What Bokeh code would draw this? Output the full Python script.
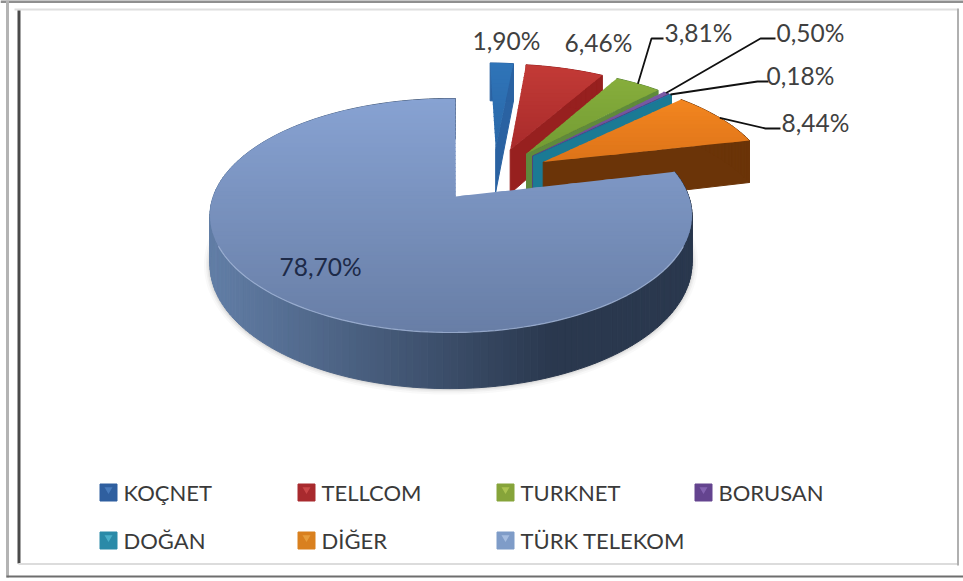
import numpy as np
from bokeh.plotting import figure
from bokeh.models import Range1d
from bokeh.core.properties import value
from bokeh.embed import file_html
from bokeh.resources import INLINE

# ---- data ----
names = ["KOÇNET", "TELLCOM", "TURKNET", "BORUSAN", "DOĞAN", "DİĞER", "TÜRK TELEKOM"]
shares = [1.90, 6.46, 3.81, 0.50, 0.18, 8.44, 78.70]
share_labels = ["1,90%", "6,46%", "3,81%", "0,50%", "0,18%", "8,44%", "78,70%"]

# ---- styles ----
top_hi = ["#2f74b8", "#c23a36", "#86ad3c", "#7a5aa6", "#1f78a8", "#f2851f", "#87a2d2"]
top_lo = ["#2a68a8", "#a92b2b", "#739c33", "#664a90", "#1a6a96", "#de7419", "#687ea6"]
cut_col = ["#2a62a2", "#97201f", "#5f8a3c", "#54407c", "#1b7a94", "#6b3408", "#3c4f6e"]
wall_l = ["#2a62a2", "#97201f", "#5f8a3c", "#54407c", "#1b7a94", "#6b3408", "#617da5"]
wall_r = ["#2a62a2", "#97201f", "#5f8a3c", "#54407c", "#1b7a94", "#6b3408", "#2a384e"]
legend_col = ["#2f5f9f", "#a82a2e", "#86a43a", "#64448f", "#2a8aa8", "#d9801f", "#7f9cc8"]
legend_hi = ["#5a90d0", "#e05a5a", "#c4d860", "#9a78c8", "#60c8e0", "#f0b050", "#c0d4f0"]

# ---- layout (pixels of the 963x581 picture) ----
W, H = 963, 581
CX, CY, RX, RY = 450.5, 215.0, 241.0, 117.0
BOOST = np.array([0.02, 0.162])
EXPLODE = 0.255
SMALL_SHIFT_X = 0.008
SMALL_STRETCH_X = 1.018
DEPTH = 47.0
label_x = [506, 598, 698, 810, 800, 815, 320]
label_y = [40, 42, 32, 32, 75, 122, 266]
leader_elbow = {2: [(651, 38), (663, 38)], 3: [(760, 38), (775, 38)],
                4: [(757, 81), (768, 81)], 5: [(765, 128), (780, 128)]}
leg_x = [108, 306, 505, 703]
leg_y = [492, 540]


def project(wx, wy):
    wx, wy = np.asarray(wx, float), np.asarray(wy, float)
    a2 = BOOST @ BOOST
    dot = BOOST[0] * wx + BOOST[1] * wy
    d = 1 + dot
    px, py = dot / a2 * BOOST[0], dot / a2 * BOOST[1]
    s = np.sqrt(1 - a2)
    u = (px + BOOST[0] + s * (wx - px)) / d
    v = (py + BOOST[1] + s * (wy - py)) / d
    return CX + RX * u, CY - RY * v, DEPTH / d


def clip_band(xs, ys, y0, y1):
    def clip(pts, keep, cut):
        out = []
        for i in range(len(pts)):
            a, b = pts[i], pts[(i + 1) % len(pts)]
            if keep(a):
                out.append(a)
            if keep(a) != keep(b):
                t = (cut - a[1]) / (b[1] - a[1])
                out.append((a[0] + t * (b[0] - a[0]), cut))
        return out
    pts = list(zip(xs, ys))
    pts = clip(pts, lambda q: q[1] >= y0, y0)
    if pts:
        pts = clip(pts, lambda q: q[1] <= y1, y1)
    return pts


def mix(c0, c1, t):
    t = min(max(t, 0), 1)
    a = [int(c0[i:i + 2], 16) for i in (1, 3, 5)]
    b = [int(c1[i:i + 2], 16) for i in (1, 3, 5)]
    return "#%02x%02x%02x" % tuple(int(round(a[k] + (b[k] - a[k]) * t)) for k in range(3))


p = figure(width=W, height=H, output_backend="svg", toolbar_location=None,
           x_range=Range1d(0, W), y_range=Range1d(H, 0), min_border=0,
           x_axis_type=None, y_axis_type=None, outline_line_color=None)
p.grid.visible = False

# frame
frame = [([0, W], [1, 1], "#8f8f8f", 3), ([7, 7], [0, 577], "#b4b4b4", 3),
         ([14, 957], [9, 9], "#dedede", 2), ([18.5, 18.5], [10, 563], "#4a4a4a", 3),
         ([18, 957], [563.5, 563.5], "#dcdcdc", 2), ([957.5, 957.5], [8, 565], "#b0b0b0", 2),
         ([6, W], [576, 576], "#6e6e6e", 2)]
for fx, fy, c, w in frame:
    p.line(fx, fy, line_color=c, line_width=w)

totals = np.cumsum([0] + shares) / sum(shares) * 2 * np.pi
mids = (totals[:-1] + totals[1:]) / 2
blue_dir = np.array([np.sin(mids[-1]), np.cos(mids[-1])])
arc_mid = {}


def draw_slice(i):
    a0, a1 = totals[i], totals[i + 1]
    off = np.zeros(2)
    sx = 1.0
    if i != len(shares) - 1:
        off = EXPLODE * (np.array([np.sin(mids[i]), np.cos(mids[i])]) - blue_dir)
        off[0] += SMALL_SHIFT_X
        sx = SMALL_STRETCH_X
    n = max(4, int((a1 - a0) / np.radians(1.5)))
    th = np.linspace(a0, a1, n)
    ax, ay, ad = project(off[0] + sx * np.sin(th), off[1] + np.cos(th))
    ox, oy, od = project(off[0], off[1])
    mx, my, _ = project(off[0] + sx * np.sin(mids[i]), off[1] + np.cos(mids[i]))
    arc_mid[i] = (float(mx), float(my))

    if i == len(shares) - 1:
        # soft shadow round the wall
        for lw, al in [(12, .035), (8, .05), (5, .07), (2.5, .1)]:
            p.line(ax, ay + ad, line_color="#555555", line_width=lw, line_alpha=al)
    else:
        # end cut face
        p.patch([ox, ax[-1], ax[-1], ox], [oy, ay[-1], ay[-1] + ad[-1], oy + od],
                fill_color=cut_col[i], line_color=cut_col[i], line_width=1)

    # outer wall
    xs, ys, cs = [], [], []
    for k in range(n - 1):
        xs.append([ax[k], ax[k + 1], ax[k + 1], ax[k]])
        ys.append([ay[k], ay[k + 1], ay[k + 1] + ad[k + 1], ay[k] + ad[k]])
        t = ((ax[k] - 215) / 340.0) if i == len(shares) - 1 else 0
        cs.append(mix(wall_l[i], wall_r[i], t))
    p.patches(xs, ys, fill_color=cs, line_color=cs, line_width=1)

    # top face, banded into a vertical gradient (bands overlap, no stroke)
    px_, py_ = np.r_[ox, ax], np.r_[oy, ay]
    y0, y1 = py_.min(), py_.max()
    bands = max(3, int((y1 - y0) / 4))
    edges = np.linspace(y0, y1 + .01, bands + 1)
    xs, ys, cs = [], [], []
    for b in range(bands):
        q = clip_band(px_, py_, edges[b], min(edges[b + 1] + 1, y1 + .01))
        if len(q) >= 3:
            xs.append([c[0] for c in q])
            ys.append([c[1] for c in q])
            cs.append(mix(top_hi[i], top_lo[i], b / max(1, bands - 1)))
    p.patches(xs, ys, fill_color=cs, line_color=None)
    return ax, ay


for i in range(len(shares) - 1):
    draw_slice(i)

# leader lines
for i, elbow in leader_elbow.items():
    lx = [arc_mid[i][0]] + [e[0] for e in elbow]
    ly = [arc_mid[i][1]] + [e[1] for e in elbow]
    p.line(lx, ly, line_color="#111111", line_width=1.8)

bx, by = draw_slice(len(shares) - 1)
front = by > CY + 30
p.line(bx[front], by[front], line_color="#a4b7d8", line_width=1.2, line_alpha=.8)

# value labels
lab_col = ["#404040"] * 6 + ["#1d2a48"]
p.text(label_x, label_y, text=share_labels, text_font=value("Lato"), text_font_size="24.5px",
       text_align="center", text_baseline="middle", text_color=lab_col)

# legend
lx, ly = [], []
for k in range(len(names)):
    lx.append(leg_x[k % 4])
    ly.append(leg_y[k // 4])
p.scatter(lx, ly, marker="square", size=17, fill_color=legend_col, line_color=legend_col)
p.scatter(lx, [y - 3 for y in ly], marker="inverted_triangle", size=8, fill_color=legend_hi,
          line_color=None, fill_alpha=.6)
p.text([x + 15 for x in lx], ly, text=names, text_font=value("Lato"), text_font_size="22px",
       text_align="left", text_baseline="middle", text_color="#3a3a3a")

open("out.html", "w").write(file_html(p, INLINE))
